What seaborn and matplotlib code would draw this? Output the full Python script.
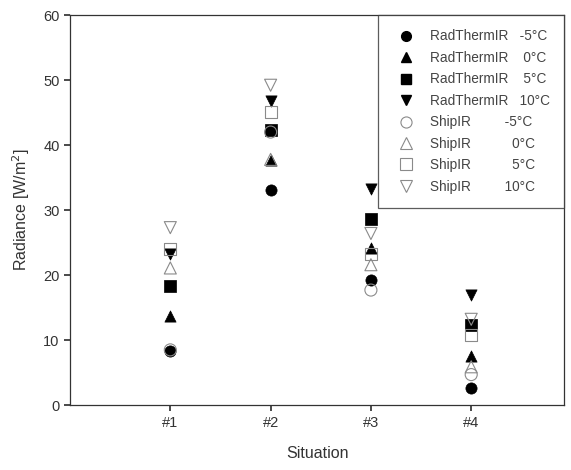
import matplotlib
matplotlib.use("Agg")
import matplotlib.pyplot as plt
from matplotlib.lines import Line2D
import seaborn as sns
import pandas as pd

situations = ["#1", "#2", "#3", "#4"]
series_names = ["RadThermIR", "RadThermIR", "RadThermIR", "RadThermIR",
                "ShipIR", "ShipIR", "ShipIR", "ShipIR"]
temps = ["-5°C", "0°C", "5°C", "10°C", "-5°C", "0°C", "5°C", "10°C"]

rt_m5 = [8.4, 33.1, 19.2, 2.7]
rt_0 = [13.7, 37.7, 24.2, 7.5]
rt_5 = [18.4, 42.3, 28.7, 12.3]
rt_10 = [23.2, 46.8, 33.2, 17.0]
si_m5 = [8.5, 42.0, 17.7, 4.7]
si_0 = [21.1, 37.8, 21.6, 5.9]
si_5 = [24.0, 45.1, 23.3, 10.8]
si_10 = [27.3, 49.2, 26.4, 13.2]

all_vals = [rt_m5, rt_0, rt_5, rt_10, si_m5, si_0, si_5, si_10]
markers = ["o", "^", "s", "v", "o", "^", "s", "v"]
filled = [True, True, True, True, False, False, False, False]

sns.set_theme(style="ticks")
plt.rcParams["font.family"] = ["Liberation Sans", "DejaVu Sans"]

fig = plt.figure(figsize=(5.71, 4.70), dpi=100)
ax = fig.add_axes([0.1226, 0.138, 0.866, 0.830])

xpos = list(range(1, len(situations) + 1))
handles = []
labels = []
for vals, mk, fl, name, t in zip(all_vals, markers, filled, series_names, temps):
    df = pd.DataFrame({"x": xpos, "y": vals})
    if fl:
        sns.scatterplot(data=df, x="x", y="y", marker=mk, s=65, color="black",
                        edgecolor="black", linewidth=0.5, ax=ax, zorder=3)
        h = Line2D([], [], linestyle="none", marker=mk, markersize=7,
                   markerfacecolor="black", markeredgecolor="black")
    else:
        sns.scatterplot(data=df, x="x", y="y", marker=mk, s=75, facecolor="none",
                        edgecolor="#8a8a8a", linewidth=0.8, ax=ax, zorder=4)
        h = Line2D([], [], linestyle="none", marker=mk, markersize=8,
                   markerfacecolor="none", markeredgecolor="#8a8a8a",
                   markeredgewidth=0.8)
    handles.append(h)
    pad = " " * (15 - len(name)) if name == "ShipIR" else "   "
    if name == "ShipIR" and t in ("0°C", "5°C"):
        pad += "  "
    if name == "RadThermIR" and t in ("0°C", "5°C"):
        pad += " "
    labels.append(f"{name}{pad}{t}")

ax.set_xlim(0, 4.93)
ax.set_ylim(0, 60)
ax.set_xticks(xpos)
ax.set_xticklabels(situations)
ax.set_yticks(range(0, 61, 10))
ax.set_xlabel("Situation", fontsize=11.5, color="#333333", labelpad=12)
ax.set_ylabel("Radiance [W/m$^2$]", fontsize=11.5, color="#333333", labelpad=8)
ax.tick_params(axis="both", labelsize=10.5, colors="#333333", direction="out", length=4)
for sp in ax.spines.values():
    sp.set_visible(True)
    sp.set_color("#333333")
    sp.set_linewidth(0.9)

leg = ax.legend(handles, labels, loc="upper right", bbox_to_anchor=(1.0, 1.0),
                frameon=True, fancybox=False, edgecolor="#333333",
                fontsize=9.8, handletextpad=0.8, labelspacing=0.55,
                borderpad=1.05, borderaxespad=0.0)
leg.get_frame().set_linewidth(0.9)
for txt in leg.get_texts():
    txt.set_color("#444444")

fig.savefig("out.png", dpi=100)
